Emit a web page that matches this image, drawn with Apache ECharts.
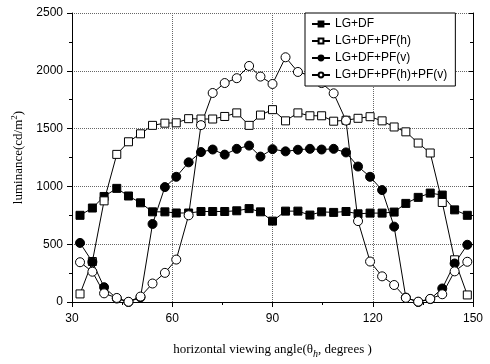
<!DOCTYPE html>
<html>
<head>
<meta charset="utf-8">
<script src="https://cdn.jsdelivr.net/npm/echarts@6/dist/echarts.min.js"></script>
<style>html,body{margin:0;padding:0;background:#fff}#c{width:490px;height:364px}</style>
</head>
<body>
<div id="c"></div>
<script>
var angles = [32.4, 36.1, 39.6, 43.4, 46.9, 50.5, 54.1, 57.8, 61.2, 64.9, 68.6, 72.1, 75.7, 79.3, 83.0, 86.4, 90.0, 93.9, 97.6, 101.2, 104.7, 108.3, 112.0, 115.6, 119.2, 122.8, 126.4, 129.9, 133.6, 137.2, 140.8, 144.5, 148.3];
var lgdf = [750, 813, 913, 983, 917, 858, 780, 780, 770, 770, 783, 783, 783, 789, 808, 780, 700, 786, 786, 752, 780, 775, 783, 763, 769, 769, 778, 853, 905, 942, 925, 797, 750];
var lgdfPfh = [70, 350, 875, 1277, 1386, 1455, 1528, 1547, 1550, 1586, 1583, 1583, 1605, 1636, 1528, 1617, 1664, 1567, 1636, 1611, 1611, 1564, 1572, 1589, 1603, 1567, 1514, 1472, 1375, 1289, 861, 365, 61];
var lgdfPfv = [511, 347, 128, 30, 0, 40, 675, 994, 1083, 1208, 1297, 1319, 1275, 1325, 1353, 1258, 1322, 1303, 1317, 1325, 1319, 1325, 1294, 1172, 1083, 968, 652, 38, 0, 25, 117, 333, 495];
var lgdfPfhPfv = [344, 262, 75, 35, 2, 47, 160, 252, 367, 750, 1530, 1808, 1894, 1936, 2042, 1950, 1886, 2117, 1990, 1960, 1894, 1805, 1569, 700, 350, 222, 147, 36, 3, 27, 67, 265, 348];
var seriesNames = ['LG+DF', 'LG+DF+PF(h)', 'LG+DF+PF(v)', 'LG+DF+PF(h)+PF(v)'];
var xTicks = [30, 60, 90, 120, 150];
var yTicks = [0, 500, 1000, 1500, 2000, 2500];

function pairs(ys) { return angles.map(function (a, i) { return [a, ys[i]]; }); }

var SANS = 'Liberation Sans, Arial, sans-serif';
var SERIF = 'Liberation Serif, Times New Roman, serif';

var chart = echarts.init(document.getElementById('c'), null, {renderer: 'canvas'});

function mkSeries(name, ys, symbol, filled, size) {
  return {
    name: name, type: 'line', data: pairs(ys),
    symbol: symbol, symbolSize: size, showAllSymbol: true,
    lineStyle: {color: '#000', width: 1},
    itemStyle: {color: filled ? '#000' : '#fff', borderColor: '#000', borderWidth: 1},
    emphasis: {disabled: true}, animation: false
  };
}

var axisCommon = {
  axisLine: {show: true, lineStyle: {color: '#000', width: 1}},
  minorTick: {show: true, splitNumber: 2, length: 3, lineStyle: {color: '#000'}},
  minorSplitLine: {show: false}
};

chart.setOption({
  animation: false,
  backgroundColor: '#fff',
  grid: {left: 72, right: 17, top: 13, bottom: 52},
  legend: {
    data: seriesNames, orient: 'vertical', left: 305, top: 13,
    padding: [4, 8, 4, 6], itemGap: 3, itemWidth: 18, itemHeight: 6,
    borderColor: '#000', borderWidth: 1, backgroundColor: '#fff', z: 10,
    textStyle: {fontFamily: SANS, fontSize: 12, color: '#000', lineHeight: 14}
  },
  xAxis: [
    Object.assign({}, axisCommon, {
      type: 'value', min: xTicks[0], max: xTicks[xTicks.length - 1], interval: 30, position: 'bottom',
      axisTick: {show: true, inside: false, length: 5, lineStyle: {color: '#000'}},
      axisLabel: {fontFamily: SANS, fontSize: 12, color: '#000', margin: 11},
      splitLine: {show: true, lineStyle: {color: '#666', type: 'dotted', width: 1}},
      name: '{a|horizontal viewing angle(θ}{s|h}{a|, degrees )}',
      nameLocation: 'middle', nameGap: 39,
      nameTextStyle: {
        rich: {
          a: {fontFamily: SERIF, fontSize: 13, color: '#000', lineHeight: 18},
          s: {fontFamily: SERIF, fontSize: 10, fontStyle: 'italic', color: '#000', lineHeight: 18, verticalAlign: 'bottom', padding: [5, 0, 0, 0]}
        }
      }
    }),
    Object.assign({}, axisCommon, {
      type: 'value', min: xTicks[0], max: xTicks[xTicks.length - 1], interval: 30, position: 'top',
      axisTick: {show: true, inside: true, length: 4, lineStyle: {color: '#000'}},
      minorTick: {show: true, splitNumber: 2, length: 3, lineStyle: {color: '#000'}},
      axisLabel: {show: false}, splitLine: {show: false}
    })
  ],
  yAxis: [
    Object.assign({}, axisCommon, {
      type: 'value', min: yTicks[0], max: yTicks[yTicks.length - 1], interval: 500, position: 'left',
      axisTick: {show: true, inside: false, length: 5, lineStyle: {color: '#000'}},
      axisLabel: {fontFamily: SANS, fontSize: 12, color: '#000', margin: 9, formatter: function (v) { return String(v); }},
      splitLine: {show: true, lineStyle: {color: '#666', type: 'dotted', width: 1}},
      name: '{a|luminance(cd/m}{s|2}{a|)}',
      nameLocation: 'middle', nameGap: 28, nameRotate: 90,
      nameTextStyle: {
        rich: {
          a: {fontFamily: SERIF, fontSize: 13, color: '#000', lineHeight: 18},
          s: {fontFamily: SERIF, fontSize: 9, color: '#000', lineHeight: 18, verticalAlign: 'top'}
        }
      }
    }),
    Object.assign({}, axisCommon, {
      type: 'value', min: yTicks[0], max: yTicks[yTicks.length - 1], interval: 500, position: 'right',
      axisTick: {show: true, inside: true, length: 4, lineStyle: {color: '#000'}},
      minorTick: {show: true, splitNumber: 2, length: 3, lineStyle: {color: '#000'}},
      axisLabel: {show: false}, splitLine: {show: false}
    })
  ],
  series: [
    mkSeries(seriesNames[0], lgdf, 'rect', true, 8),
    mkSeries(seriesNames[1], lgdfPfh, 'rect', false, 8),
    mkSeries(seriesNames[2], lgdfPfv, 'circle', true, 9),
    mkSeries(seriesNames[3], lgdfPfhPfv, 'circle', false, 9)
  ]
});
</script>
</body>
</html>
